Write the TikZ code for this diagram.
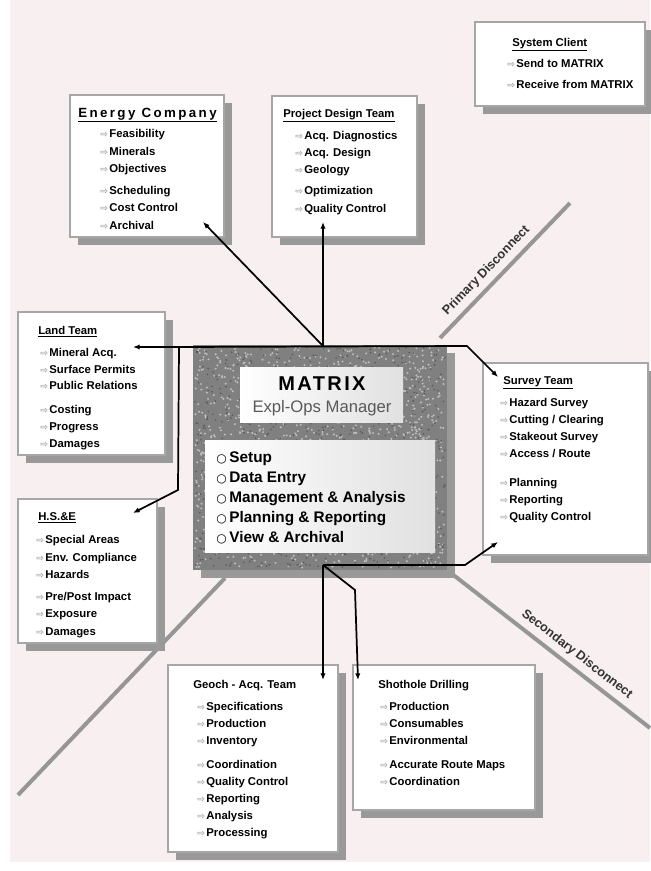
\documentclass[tikz,border=0pt]{standalone}
\usepackage{fontspec}
\setmainfont{Liberation Sans}
\newfontfamily\symfont{DejaVu Sans}
\newfontfamily\spacedfont[LetterSpace=18]{Liberation Sans}
\newfontfamily\matrixfont[LetterSpace=12]{Liberation Sans}
\usetikzlibrary{arrows.meta,fit,patterns,shadows}
\definecolor{bgpink}{RGB}{247,239,240}
\definecolor{cutgray}{RGB}{150,150,150}
\newcommand{\itm}[1]{{\symfont\fontsize{7}{7}\selectfont\color{black!35}⇨}\hspace{1pt}#1}
\newcommand{\opt}[1]{{\symfont\bfseries\fontsize{9}{9}\selectfont ○}\hspace{2pt}#1}

\tikzset{
  teambox/.style={draw=black!35, line width=1pt, fill=white, inner sep=0pt,
    general shadow={fill=black!40, shadow xshift=6pt, shadow yshift=-6pt}},
  boxtitle/.style={anchor=base west, inner sep=0pt, font=\bfseries\fontsize{8.5}{10}\selectfont},
  % anchored at the baseline of the last line
  itemlist/.style={anchor=base west, inner sep=0pt, align=left, font=\bfseries\fontsize{8.5}{13}\selectfont},
  link/.style={line width=1.3pt, -{Latex[length=5pt,width=4pt]}},
  cutline/.style={line width=3pt, cutgray},
  cutlabel/.style={font=\bfseries\fontsize{9.5}{11}\selectfont, text=black!80, sloped, above, inner sep=4pt},
}

\begin{document}
\begin{tikzpicture}[x=0.75pt, y=-0.75pt]
  \useasboundingbox (0,0) rectangle (650,871);
  \fill[bgpink] (10,0) rectangle (650,862);

  % disconnect lines
  \draw[cutline] (440,338) -- node[cutlabel, pos=0.43] (prim) {Primary Disconnect} (570,203);
  \draw[cutline] (447,570) -- node[cutlabel, pos=0.6] (sec) {Secondary Disconnect} (650,728);
  \draw[cutline] (225,578) -- (18,795);

  % MATRIX
  \node[fit={(193,345) (447,570)}, inner sep=0pt, fill=black!50,
    general shadow={fill=black!40, shadow xshift=6pt, shadow yshift=-6pt}] (matrix) {};
  \pgfmathsetseed{11}
  \foreach \i in {1,...,1400}
    \fill[black!25] ({195+250*rnd},{347+221*rnd}) circle (1.1);
  \foreach \i in {1,...,900}
    \fill[black!65] ({195+250*rnd},{347+221*rnd}) circle (0.9);
  \node[fit={(240,367) (403,422)}, inner sep=0pt, left color=white, right color=black!12] (head) {};
  \node[font=\matrixfont\bfseries\fontsize{15}{15}\selectfont] (mtx) at (322,384) {MATRIX};
  \node[font=\fontsize{12.5}{13}\selectfont, text=black!65] (mgr) at (322,408) {Expl-Ops Manager};
  \node[fit={(205,440) (435,552)}, inner sep=0pt, left color=white, right color=black!12] (opts) {};
  \node[itemlist, font=\bfseries\fontsize{11.5}{15}\selectfont] (optL) at (216,542)
    {\opt{Setup}\\ \opt{Data Entry}\\ \opt{Management \& Analysis}\\ \opt{Planning \& Reporting}\\ \opt{View \& Archival}};

  % System Client
  \node[teambox, fit={(475,22) (645,106)}] (sc) {};
  \node[boxtitle] (scT) at (512,46) {\underline{System Client}};
  \node[itemlist] (scL) at (507,88) {\itm{Send to MATRIX}\\[2.7pt] \itm{Receive from MATRIX}};

  % Energy Company
  \node[teambox, fit={(70,95) (224,237)}] (ec) {};
  \node[boxtitle, font=\spacedfont\bfseries\fontsize{10}{12}\selectfont] (ecT) at (78,117) {\underline{Energy Company}};
  \node[itemlist] (ecL) at (100,229)
    {\itm{Feasibility}\\ \itm{Minerals}\\ \itm{Objectives}\\[3.4pt] \itm{Scheduling}\\ \itm{Cost Control}\\ \itm{Archival}};

  % Project Design Team
  \node[teambox, fit={(272,96) (417,237)}] (pd) {};
  \node[boxtitle] (pdT) at (283,117) {\underline{Project Design Team}};
  \node[itemlist] (pdL) at (295,212)
    {\itm{Acq. Diagnostics}\\ \itm{Acq. Design}\\ \itm{Geology}\\[2.6pt] \itm{Optimization}\\ \itm{Quality Control}};

  % Land Team
  \node[teambox, fit={(18,312) (165,455)}] (lt) {};
  \node[boxtitle] (ltT) at (38,334) {\underline{Land Team}};
  \node[itemlist, font=\bfseries\fontsize{8.5}{12.4}\selectfont] (ltL) at (40,447)
    {\itm{Mineral Acq.}\\ \itm{Surface Permits}\\ \itm{Public Relations}\\[5.6pt] \itm{Costing}\\ \itm{Progress}\\ \itm{Damages}};

  % Survey Team
  \node[teambox, fit={(483,363) (648,555)}] (st) {};
  \node[boxtitle] (stT) at (503,384) {\underline{Survey Team}};
  \node[itemlist, font=\bfseries\fontsize{8.5}{12.75}\selectfont] (stL) at (500,520)
    {\itm{Hazard Survey}\\ \itm{Cutting / Clearing}\\ \itm{Stakeout Survey}\\ \itm{Access / Route}\\[8.3pt]
     \itm{Planning}\\ \itm{Reporting}\\ \itm{Quality Control}};

  % H.S.&E
  \node[teambox, fit={(18,499) (157,643)}] (hs) {};
  \node[boxtitle] (hsT) at (38,520) {\underline{H.S.\&E}};
  \node[itemlist] (hsL) at (36,635)
    {\itm{Special Areas}\\ \itm{Env. Compliance}\\ \itm{Hazards}\\[3.4pt] \itm{Pre/Post Impact}\\ \itm{Exposure}\\ \itm{Damages}};

  % Geoch - Acq. Team
  \node[teambox, fit={(168,665) (338,852)}] (ga) {};
  \node[boxtitle] (gaT) at (193,688) {Geoch - Acq. Team};
  \node[itemlist, font=\bfseries\fontsize{8.5}{12.75}\selectfont] (gaL) at (197,836)
    {\itm{Specifications}\\ \itm{Production}\\ \itm{Inventory}\\[5.2pt] \itm{Coordination}\\ \itm{Quality Control}\\
     \itm{Reporting}\\ \itm{Analysis}\\ \itm{Processing}};

  % Shothole Drilling
  \node[teambox, fit={(353,665) (535,810)}] (sd) {};
  \node[boxtitle] (sdT) at (378,688) {Shothole Drilling};
  \node[itemlist, font=\bfseries\fontsize{8.5}{12.75}\selectfont] (sdL) at (380,785)
    {\itm{Production}\\ \itm{Consumables}\\ \itm{Environmental}\\[5.2pt] \itm{Accurate Route Maps}\\ \itm{Coordination}};

  % connectors
  \coordinate (hubN) at (323,346);
  \coordinate (hubS) at (323,565);
  \coordinate (ecTip) at (203,222);
  \coordinate (pdTip) at (323,222);
  \coordinate (ltJoin) at (179,347);
  \coordinate (ltTip) at (133,347);
  \coordinate (hsBend) at (178,490);
  \coordinate (hsTip) at (133,513);
  \coordinate (topRun) at (467,346);
  \coordinate (stTop) at (498,377);
  \coordinate (botRun) at (465,565);
  \coordinate (stBot) at (498,542);
  \coordinate (gaTip) at (323,680);
  \coordinate (sdBend) at (355,590);
  \coordinate (sdTip) at (358,680);

  \draw[link] (hubN) -- (ecTip);
  \draw[link] (hubN) -- (pdTip);
  \draw[link] (ltJoin) -- (ltTip);
  \draw[link] (ltJoin) -- (topRun) -- (stTop);
  \draw[link] (ltJoin) -- (hsBend) -- (hsTip);
  \draw[link] (hubS) -- (botRun) -- (stBot);
  \draw[link] (hubS) -- (gaTip);
  \draw[link] (hubS) -- (sdBend) -- (sdTip);
\end{tikzpicture}
\end{document}
